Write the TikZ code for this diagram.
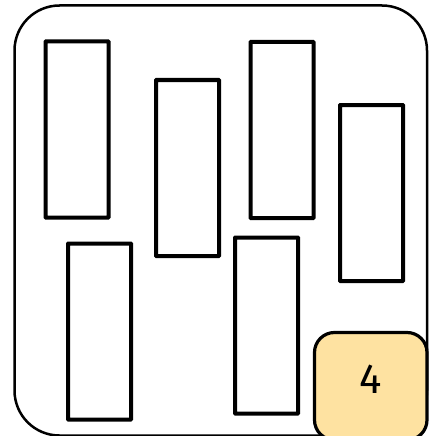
\documentclass[tikz,border=0pt]{standalone}
\usepackage{fontspec}
\setmainfont{Fira Sans}
\tikzset{
  slotbox/.style={draw=black,line width=4pt,fill=white,rounded corners=0.5pt,inner sep=0pt,outer sep=0pt,minimum width=63pt,minimum height=176pt,anchor=north west},
  frameline/.style={draw=black,line width=2.5pt,rounded corners=45pt},
  badge/.style={draw=black,line width=3.2pt,fill=badgefill,rounded corners=20pt}
}
\definecolor{badgefill}{HTML}{FEE2A1}
\begin{document}
\begin{tikzpicture}[x=1pt,y=-1pt]
\useasboundingbox (0,0) rectangle (439,436);
\begin{scope}
\clip (0,0) rectangle (439,436);
\draw[frameline] (14.5,5.5) rectangle (427,435.5);
\node[slotbox] (a) at (45.5,41.5) {};
\node[slotbox] (b) at (156,80) {};
\node[slotbox] (c) at (250.5,42) {};
\node[slotbox] (d) at (340,105) {};
\node[slotbox] (e) at (68,243.5) {};
\node[slotbox] (f) at (235,237.5) {};
\draw[badge] (314.5,332.5) rectangle (427,440);
\end{scope}
\node[font=\fontsize{42pt}{42pt}\selectfont,inner sep=0pt,anchor=center] (n) at (370.5,379) {4};
\end{tikzpicture}
\end{document}
